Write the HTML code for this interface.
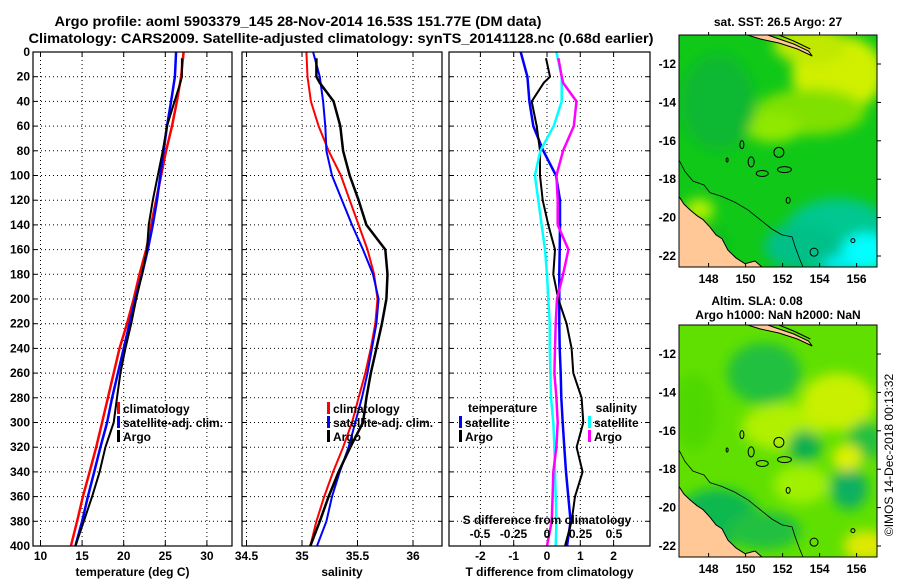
<!DOCTYPE html>
<html><head><meta charset="utf-8"><style>
html,body{margin:0;padding:0;background:#fff;}
svg{display:block;font-family:"Liberation Sans",sans-serif;font-weight:bold;}
</style></head><body>
<svg id="chart" width="900" height="580" viewBox="0 0 900 580" xmlns="http://www.w3.org/2000/svg">
<defs>
<filter id="blur" x="-20%" y="-20%" width="140%" height="140%"><feGaussianBlur stdDeviation="6"/></filter>
<clipPath id="clip1"><rect x="679" y="35" width="198" height="232"/></clipPath>
<clipPath id="clip2"><rect x="679" y="325" width="198" height="232"/></clipPath>
</defs>
<text x="298" y="26" text-anchor="middle" font-size="14" textLength="487" lengthAdjust="spacingAndGlyphs">Argo profile: aoml 5903379_145 28-Nov-2014 16.53S 151.77E (DM data)</text>
<text x="341" y="43" text-anchor="middle" font-size="14" textLength="625" lengthAdjust="spacingAndGlyphs">Climatology: CARS2009. Satellite-adjusted climatology: synTS_20141128.nc (0.68d earlier)</text>
<g id="panels"></g>
<g id="maps"></g>
<text transform="translate(893,455) rotate(-90)" text-anchor="middle" font-size="12" font-weight="normal">©IMOS 14-Dec-2018 00:13:32</text>
</svg>
<script>
const depths=[0,20,40,60,80,100,120,140,160,180,200,220,240,260,280,300,320,340,360,380,400];
const argoDepths=[5,20,25,40,60,80,100,120,140,160,180,200,220,240,260,280,300,320,340,360,380,400];
const tClim=[27.2,26.9,26.4,25.8,25.1,24.5,23.9,23.3,22.7,21.9,21.2,20.4,19.5,18.8,18.1,17.4,16.7,15.9,15.1,14.4,13.65];
const tSat=[26.3,26.15,25.7,25.2,24.8,24.4,24.0,23.5,22.9,22.2,21.4,20.7,20.0,19.3,18.6,18.0,17.2,16.45,15.7,15.0,14.2];
const tArgo=[27.0,27.0,26.8,26.1,25.2,24.7,24.1,23.5,23.0,22.8,22.2,21.5,20.9,20.2,19.6,19.2,18.8,17.8,17.1,16.2,15.2,14.2];
const sClim=[35.04,35.05,35.08,35.15,35.24,35.35,35.43,35.51,35.59,35.65,35.68,35.66,35.62,35.57,35.51,35.45,35.37,35.28,35.20,35.13,35.075];
const sSat=[35.10,35.16,35.19,35.21,35.22,35.27,35.36,35.45,35.55,35.64,35.69,35.67,35.63,35.59,35.54,35.48,35.42,35.34,35.27,35.22,35.135];
const sArgo=[35.13,35.13,35.16,35.285,35.345,35.37,35.43,35.51,35.58,35.75,35.77,35.76,35.72,35.67,35.62,35.58,35.55,35.435,35.33,35.24,35.16,35.075];
const dTSat=[-0.79,-0.59,-0.53,-0.41,-0.11,0.27,0.39,0.39,0.38,0.37,0.37,0.37,0.38,0.41,0.43,0.47,0.52,0.57,0.64,0.71,0.6];
const dTArgo=[-0.03,0.09,-0.1,-0.46,-0.31,-0.21,-0.21,-0.13,0.04,0.24,0.19,0.34,0.59,0.74,0.79,1.04,1.09,0.89,1.07,0.84,0.74,0.54];
const dSSat=[0.07,0.11,0.11,0.05,-0.05,-0.09,-0.065,-0.04,-0.015,0.0,0.01,0.02,0.02,0.025,0.03,0.047,0.055,0.06,0.065,0.07,0.065];
const dSArgo=[0.085,0.11,0.12,0.22,0.20,0.12,0.07,0.08,0.08,0.16,0.12,0.075,0.065,0.06,0.055,0.07,0.08,0.07,0.047,0.042,0.035,0.0];
const depthTicks=[0,20,40,60,80,100,120,140,160,180,200,220,240,260,280,300,320,340,360,380,400];
const tTicks=[10,15,20,25,30];
const sTicks=[34.5,35,35.5,36];
const dTTicks=[-2,-1,0,1,2];
const dSTicks=[-0.5,-0.25,0,0.25,0.5];
const lonTicks=[148,150,152,154,156];
const latTicks=[-12,-14,-16,-18,-20,-22];

const NS='http://www.w3.org/2000/svg';
function mk(tag,attrs,parent){const e=document.createElementNS(NS,tag);for(const k in attrs)e.setAttribute(k,attrs[k]);(parent||document.getElementById('chart')).appendChild(e);return e;}
const yD=d=>52+d*1.235;
const xT=t=>40.5+(t-10)*8.32;
const xS=s=>302+(s-35)*111;
const xDT=t=>547+t*33.3;
const xDS=s=>547+s*134;
const P=document.getElementById('panels');

function panel(name,x0,x1,xticks,xf,label,fmt){
  const g=mk('g',{},P);
  
  
  mk('rect',{x:x0,y:52,width:x1-x0,height:494,fill:'#fff'},g);
  depthTicks.forEach(d=>{
    const l=mk('line',{x1:x0,x2:x1,y1:yD(d),y2:yD(d),stroke:'#000','stroke-width':1,'stroke-dasharray':'1,3'},g);
    
    
    mk('line',{x1:x0,x2:x0+4,y1:yD(d),y2:yD(d),stroke:'#000'},g);
    mk('line',{x1:x1-4,x2:x1,y1:yD(d),y2:yD(d),stroke:'#000'},g);
  });
  xticks.forEach(v=>{
    const x=xf(v);
    const l=mk('line',{x1:x,x2:x,y1:52,y2:546,stroke:'#000','stroke-dasharray':'1,3'},g);
    
    
    mk('line',{x1:x,x2:x,y1:546,y2:541,stroke:'#000'},g);
    mk('line',{x1:x,x2:x,y1:52,y2:57,stroke:'#000'},g);
    const t=mk('text',{x:x,y:560,'text-anchor':'middle','font-size':12},g);
    t.textContent=fmt?fmt(v):v;
    
    
  });
  const lb=mk('text',{x:(x0+x1)/2,y:576,'text-anchor':'middle','font-size':12},g);
  lb.textContent=label;
  
  
  return g;
}
function frame(g,x0,x1){mk('rect',{x:x0,y:52,width:x1-x0,height:494,fill:'none',stroke:'#000','stroke-width':1.2},g);}
function series(g,name,ds,vals,xf,color,w){
  const pts=vals.map((v,i)=>xf(v).toFixed(1)+','+yD(ds[i]).toFixed(1)).join(' ');
  const p=mk('polyline',{points:pts,fill:'none',stroke:color,'stroke-width':w||2,'stroke-linejoin':'round'},g);
  
  
}
function legendItem(g,name,x,y,color,text,anchor){
  const e=mk('g',{},g);
  
  
  mk('rect',{x:x,y:y-6,width:3,height:12,fill:color},e);
  const t=mk('text',{x:anchor==='end'?x-3:x+6,y:y+5,'font-size':12,'text-anchor':anchor||'start'},e);
  t.textContent=text;
}
depthTicks.forEach(d=>{
  const t=mk('text',{x:30,y:yD(d)+4,'text-anchor':'end','font-size':12});
  t.textContent=d;
  
  
});
let g1=panel('temperature-panel',33,232,tTicks,xT,'temperature (deg C)');
series(g1,'temp-climatology-line',depths,tClim,xT,'#f00',2.5);
series(g1,'temp-satellite-line',depths,tSat,xT,'#00f',2.5);
series(g1,'temp-argo-line',argoDepths,tArgo,xT,'#000',2);
legendItem(g1,'legend-climatology',117,408,'#f00','climatology');
legendItem(g1,'legend-satellite-adj',117,422,'#00f','satellite-adj. clim.');
legendItem(g1,'legend-argo',117,436,'#000','Argo');
frame(g1,33,232);
let g2=panel('salinity-panel',242,442,sTicks,xS,'salinity');
series(g2,'sal-climatology-line',depths,sClim,xS,'#f00',2);
series(g2,'sal-satellite-line',depths,sSat,xS,'#00f',2);
series(g2,'sal-argo-line',argoDepths,sArgo,xS,'#000',2.5);
legendItem(g2,'legend-climatology',327,408,'#f00','climatology');
legendItem(g2,'legend-satellite-adj',327,422,'#00f','satellite-adj. clim.');
legendItem(g2,'legend-argo',327,436,'#000','Argo');
frame(g2,242,442);
let g3=panel('difference-panel',449,650,dTTicks,xDT,'T difference from climatology');
mk('line',{x1:547,x2:547,y1:52,y2:546,stroke:'#000','stroke-dasharray':'1,3'},g3);
series(g3,'tdiff-satellite-line',depths,dTSat,xDT,'#00f',2.5);
series(g3,'tdiff-argo-line',argoDepths,dTArgo,xDT,'#000',2);
series(g3,'sdiff-satellite-line',depths,dSSat,xDS,'#0ff',2.5);
series(g3,'sdiff-argo-line',argoDepths,dSArgo,xDS,'#f0f',2.5);
{const t=mk('text',{x:468,y:412,'font-size':12},g3);t.textContent='temperature';
}
legendItem(g3,'legend-t-satellite',459,422,'#00f','satellite');
legendItem(g3,'legend-t-argo',459,436,'#000','Argo');
{const t=mk('text',{x:637,y:412,'font-size':12,'text-anchor':'end'},g3);t.textContent='salinity';
}
legendItem(g3,'legend-s-satellite',588,422,'#0ff','satellite');
legendItem(g3,'legend-s-argo',588,436,'#f0f','Argo');
{const t=mk('text',{x:547,y:524,'font-size':12,'text-anchor':'middle'},g3);t.textContent='S difference from climatology';
}
dSTicks.forEach(v=>{const t=mk('text',{x:xDS(v),y:538,'font-size':12,'text-anchor':'middle'},g3);t.textContent=v;
});
frame(g3,449,650);

const M=document.getElementById('maps');
const mx=lon=>679+(lon-146.4)*18.5;
function buildMap(name,y0,clip,title,fields){
  const my=lat=>y0+29+(-12-lat)*19.2;
  const g=mk('g',{},M);
  
  
  const c=mk('g',{'clip-path':'url(#'+clip+')'},g);
  mk('rect',{x:679,y:y0,width:198,height:232,fill:fields.base},c);
  const b=mk('g',{filter:'url(#blur)'},c);
  fields.blobs.forEach(o=>mk('ellipse',{cx:mx(o[0]),cy:my(o[1]),rx:o[2]*18.5,ry:o[3]*19.2,fill:o[4]},b));
  // bottom-left land
  mk('path',{d:`M679,${my(-18.9)} L684,${my(-19.3)} L690,${my(-19.6)} L697,${my(-19.9)} L703,${my(-20.1)} L710,${my(-20.5)} L716,${my(-20.9)} L722,${my(-21.1)} L728,${my(-21.7)} L736,${my(-22.1)} L745,${my(-22.4)} L755,${y0+226} L762,${y0+232} L679,${y0+232}Z`,fill:'#ffc896',stroke:'#000','stroke-width':1},c);
  // top land sliver
  mk('path',{d:`M${mx(150.1)},${y0} L${mx(150.8)},${y0+4} L${mx(151.8)},${y0+8} L${mx(152.8)},${y0+14} L${mx(153.6)},${y0+21} L${mx(153.4)},${y0+16} L${mx(152.6)},${y0+9} L${mx(151.5)},${y0+2} L${mx(151.2)},${y0}Z`,fill:'#ffc896',stroke:'#000','stroke-width':1},c);
  mk('path',{d:`M${mx(151.8)},${y0} L${mx(152.6)},${y0+6} L${mx(153.5)},${y0+14}`,fill:'none',stroke:'#000','stroke-width':1},c);
  mk('path',{d:`M679,${my(-17)} L685,${my(-17.6)} L693,${my(-18.1)} L704,${my(-18.3)} L710,${my(-18.7)} L722,${my(-18.9)} L735,${my(-19.2)} L748,${my(-19.6)} L760,${my(-20.1)} L772,${my(-20.6)} L782,${my(-20.9)} L792,${my(-21.0)} L795,${my(-21.5)} L800,${my(-22.2)} L803,${y0+232}`,fill:'none',stroke:'#000','stroke-width':0.8},c);
  // reefs
  [[149.8,-16.2,2,4],[150.3,-17.1,3,5],[150.9,-17.7,6,3],[152.1,-17.5,7,3],[153.7,-21.8,4,4],[152.3,-19.1,2,3],[149,-17,1,2],[155.8,-21.2,2,2]].forEach(r=>
    mk('ellipse',{cx:mx(r[0]),cy:my(r[1]),rx:r[2],ry:r[3],fill:'none',stroke:'#000','stroke-width':1},c));
  const ap=mk('circle',{cx:mx(151.8),cy:my(-16.6),r:5,fill:'none',stroke:'#000','stroke-width':1},g);
  
  
  mk('rect',{x:679,y:y0,width:198,height:232,fill:'none',stroke:'#000','stroke-width':1},g);
  lonTicks.forEach(v=>{const x=mx(v);
    mk('line',{x1:x,x2:x,y1:y0+232,y2:y0+228,stroke:'#000'},g);mk('line',{x1:x,x2:x,y1:y0,y2:y0-3,stroke:'#000'},g);
    const t=mk('text',{x:x,y:y0+248,'font-size':12,'text-anchor':'middle'},g);t.textContent=v;
    });
  latTicks.forEach(v=>{const y=my(v);
    mk('line',{x1:877,x2:881,y1:y,y2:y,stroke:'#000'},g);
    const t=mk('text',{x:676,y:y+4,'font-size':12,'text-anchor':'end'},g);t.textContent=v;
    });
  title.forEach(tt=>{const t=mk('text',{x:tt[0],y:tt[1],'font-size':12,'text-anchor':'middle'},g);t.textContent=tt[2];
    });
}
buildMap('sst-map',35,'clip1',[[778,26,'sat. SST: 26.5 Argo: 27']],{base:'#10c818',blobs:[
  [155,-12.5,2.5,2,'#d0f000'],[153.5,-11,2,1,'#c0e800'],[153.5,-14.5,3,1.2,'#80e000'],[151.5,-15.3,1.5,0.8,'#90e800'],
  [148.5,-14,2,2.5,'#10b830'],[155,-21,3,2,'#00c890'],[153,-21.5,2,1.2,'#00c088'],[156.5,-21.8,1.3,1,'#00ffff'],[155,-22.4,0.8,0.4,'#00f0f0'],
  [147.5,-19.6,0.8,0.6,'#b0f000'],[148,-21.5,1,1,'#10b820']]});
buildMap('sla-map',325,'clip2',[[757,305,'Altim. SLA: 0.08'],[778,319,'Argo h1000: NaN h2000: NaN']],{base:'#60e000',blobs:[
  [151,-13,2,1.6,'#20c040'],[152,-15.8,2.2,1.2,'#b0f000'],[155,-14.5,2,1.5,'#c8f000'],[153.2,-16.8,0.9,0.8,'#10b050'],
  [155.6,-19,1,1.1,'#10b060'],[156.5,-16.5,1,1,'#20c040'],[155.5,-17.4,0.8,0.7,'#e0f000'],[156.5,-22,1.2,0.8,'#e0e800'],
  [148.5,-20.5,2.2,1.5,'#10b850'],[151,-21.2,2,1,'#20c040'],[147.2,-15,1.2,2,'#50d800'],[153,-18.8,1.5,1,'#a0f000']]});
</script>
</body></html>
